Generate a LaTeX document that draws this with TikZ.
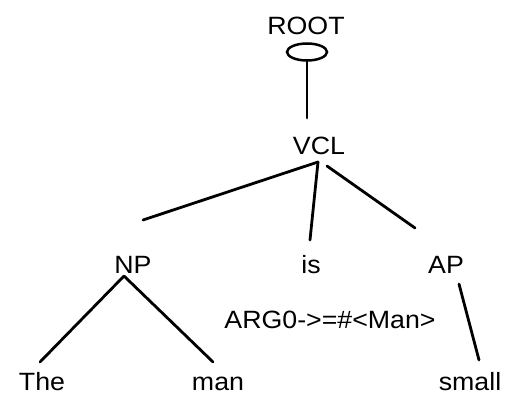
\documentclass[tikz,border=0pt]{standalone}
\usepackage{fontspec}
\setmainfont{Liberation Sans}[FakeStretch=1.07]
\begin{document}
\begin{tikzpicture}[x=1pt,y=-1pt,
  lbl/.style={inner sep=0pt,anchor=base,text depth=0pt,font=\fontsize{25}{30}\selectfont},
  edge/.style={line width=2.8pt,line cap=round}]
\useasboundingbox (0,0) rectangle (518,395);
% labels
\node[lbl] (root) at (306,35) {ROOT};
\node[lbl] (vcl) at (319,155) {VCL};
\node[lbl] (np) at (133,273) {NP};
\node[lbl] (is) at (311,273) {is};
\node[lbl] (ap) at (446,273) {AP};
\node[lbl] (arg) at (330,328) {ARG0->=\#<Man>};
\node[lbl] (the) at (42,390) {The};
\node[lbl] (man) at (218,390) {man};
\node[lbl] (small) at (470,390) {small};
% root marker and attachment points
\draw[line width=2.5pt] (307,52) ellipse [x radius=20, y radius=8.5];
\coordinate (rootb) at (307,60.5);
\coordinate (vtop) at (307,118);
\coordinate (vapex) at (318,162);
\coordinate (vright) at (327,166);
\coordinate (npend) at (143,220);
\coordinate (isend) at (310,240);
\coordinate (apend) at (415,228);
\coordinate (npapex) at (124,276);
\coordinate (theend) at (40,362);
\coordinate (manend) at (213,362);
\coordinate (aptop) at (459,284);
\coordinate (smallend) at (479,360);
% connectors
\draw[edge] (rootb) -- (vtop);
\draw[edge] (vapex) -- (npend);
\draw[edge] (vapex) -- (isend);
\draw[edge] (vright) -- (apend);
\draw[edge] (npapex) -- (theend);
\draw[edge] (npapex) -- (manend);
\draw[edge] (aptop) -- (smallend);
\end{tikzpicture}
\end{document}
